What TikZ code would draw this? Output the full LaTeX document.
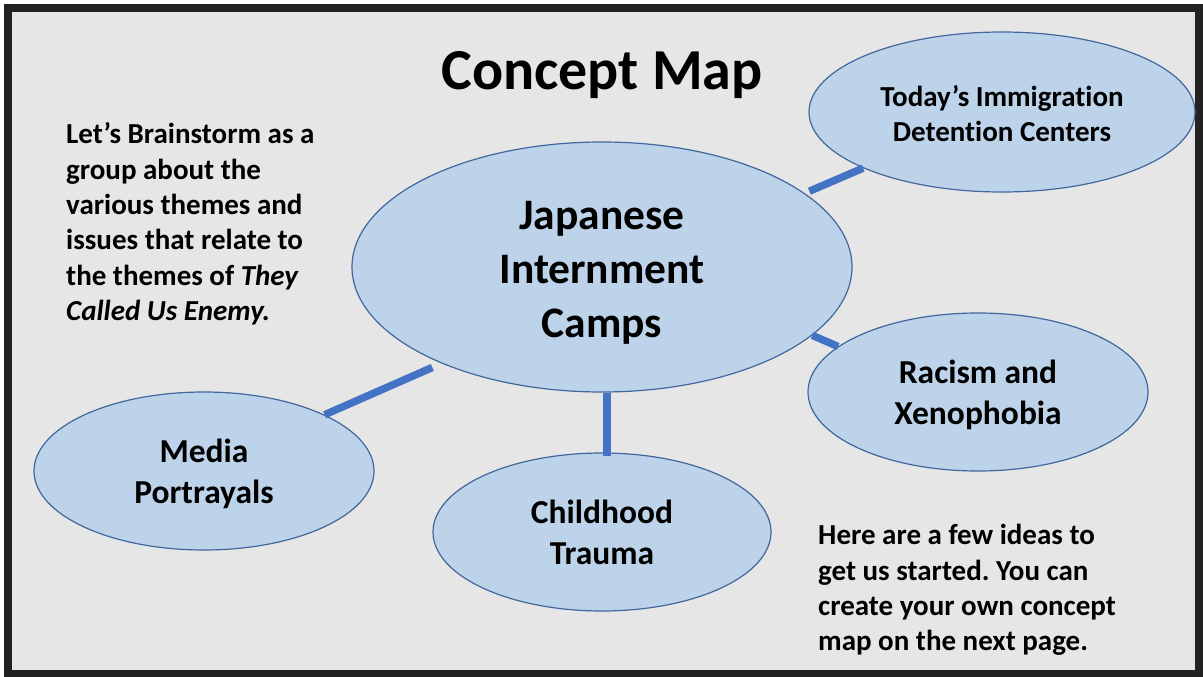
\documentclass[tikz,border=0pt]{standalone}
\usepackage{fontspec}
\setmainfont{Carlito}[Ligatures=NoCommon]
\frenchspacing
\usetikzlibrary{shapes.geometric}
\definecolor{bgc}{HTML}{E6E6E6}
\definecolor{framec}{HTML}{222222}
\definecolor{ellfill}{HTML}{BDD3EA}
\definecolor{elldraw}{HTML}{41679E}
\definecolor{linkc}{HTML}{4472C4}
\begin{document}
\begin{tikzpicture}[x=1pt,y=-1pt,
  concept/.style={ellipse, draw=elldraw, line width=1.2pt, fill=ellfill, inner sep=0pt, align=center, font=\bfseries\fontsize{33.5}{41}\selectfont},
  link/.style={draw=linkc, line width=7.5pt},
  note/.style={align=left, inner sep=0pt, font=\bfseries\fontsize{29}{35.4}\selectfont}]
\useasboundingbox (0,0) rectangle (1203,677);
\fill[white] (0,0) rectangle (1203,677);
\fill[framec] (4,4) rectangle (1203,677);
\fill[bgc] (12,12) rectangle (1195,670);

\node[anchor=base, inner sep=0pt, font=\bfseries\fontsize{58}{70}\selectfont] (title) at (602,90) {Concept Map};

\node[concept, minimum width=500pt, minimum height=250pt, text height=147.5pt, font=\bfseries\fontsize{43.5}{54}\selectfont] (camps) at (602,267) {Japanese\\Internment\\Camps};
\node[concept, minimum width=386pt, minimum height=160pt, text height=60pt, font=\bfseries\fontsize{29}{35}\selectfont] (today) at (1002,112) {Today’s Immigration\\Detention Centers};
\node[concept, minimum width=340pt, minimum height=158pt, text height=71pt] (racism) at (978,392) {Racism and\\Xenophobia};
\node[concept, minimum width=340pt, minimum height=158pt, text height=71pt] (media) at (204,471) {Media\\Portrayals};
\node[concept, minimum width=338pt, minimum height=158pt, text height=65pt] (child) at (602,532) {Childhood\\Trauma};

\draw[link, shorten >=10pt] (media.25.7) -- (camps.211.5);
\draw[link, shorten >=-4pt] ([xshift=5pt]camps.south) -- ([xshift=5pt]child.north);
\draw[link] (camps.-18.9) -- (racism.162.3);
\draw[link, shorten <=5pt] (camps.20) -- (today.202.7);

\node[note, anchor=west] (brain) at (66,224) {Let’s Brainstorm as a\\group about the\\various themes and\\issues that relate to\\the themes of \textit{They}\\\textit{Called Us Enemy.}};
\node[note, anchor=west] (ideas) at (818,590) {Here are a few ideas to\\get us started. You can\\create your own concept\\map on the next page.};
\end{tikzpicture}
\end{document}
